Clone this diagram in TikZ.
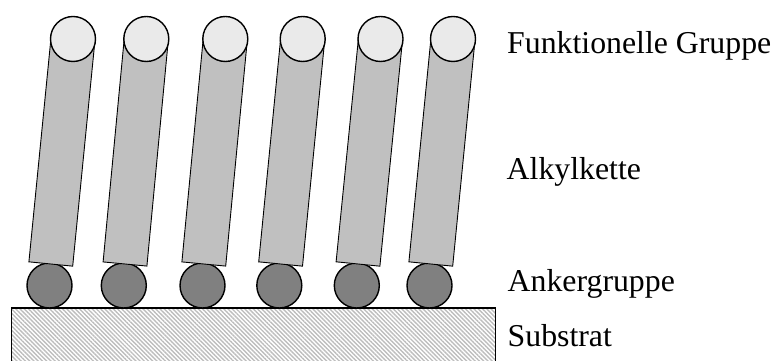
\documentclass[tikz,border=0pt]{standalone}
\usepackage{fontspec}
\setmainfont{Liberation Serif}
\usetikzlibrary{calc,patterns.meta}
\definecolor{rodgray}{HTML}{C0C0C0}
\definecolor{headgray}{HTML}{EAEAEA}
\definecolor{anchorgray}{HTML}{808080}
\definecolor{hatchgray}{HTML}{BDBDBD}
\begin{document}
\begin{tikzpicture}[x=1pt,y=1pt,
  rodbox/.style={draw=black,line width=0.9pt,fill=rodgray,line join=miter},
  headball/.style={circle,draw=black,line width=1.4pt,fill=headgray,minimum size=45pt,inner sep=0pt},
  anchorball/.style={circle,draw=black,line width=1.4pt,fill=anchorgray,minimum size=45pt,inner sep=0pt},
  lbl/.style={anchor=base west,inner sep=0pt,font=\fontsize{31.8}{36}\selectfont}]
\useasboundingbox (0,0) rectangle (776,361);
% substrate
\fill[pattern={Lines[angle=-45,distance=3pt,line width=1.4pt]},pattern color=hatchgray] (11.5,0) rectangle (495.5,53);
\draw[line width=1.5pt] (11.5,0) -- (11.5,53) -- (495.5,53) -- (495.5,0);
% anchor groups
\foreach \i/\x in {1/49.5,2/123.8,3/202.5,4/279.3,5/356.8,6/429.5}{
  \node[anchorball] (a\i) at (\x,75.5) {};
}
% rods
\foreach \i/\bx/\tx in {1/50.8/73,2/125/146.3,3/203.8/225.3,4/280.6/302.7,5/358/380.5,6/430.8/453}{
  \coordinate (b\i) at (\bx,97);
  \coordinate (t\i) at (\tx,322);
  \draw[rodbox] ($(b\i)!22pt!90:(t\i)$) -- ($(b\i)!22pt!-90:(t\i)$) -- ($(t\i)!22pt!90:(b\i)$) -- ($(t\i)!22pt!-90:(b\i)$) -- cycle;
  \node[headball] (h\i) at (t\i) {};
}
% labels
\node[lbl] (lf) at (507,307.7) {Funktionelle Gruppe};
\node[lbl] (lk) at (506.5,181.7) {Alkylkette};
\node[lbl] (la) at (507.5,69.3) {Ankergruppe};
\node[lbl] (ls) at (507.5,14.3) {Substrat};
\end{tikzpicture}
\end{document}
